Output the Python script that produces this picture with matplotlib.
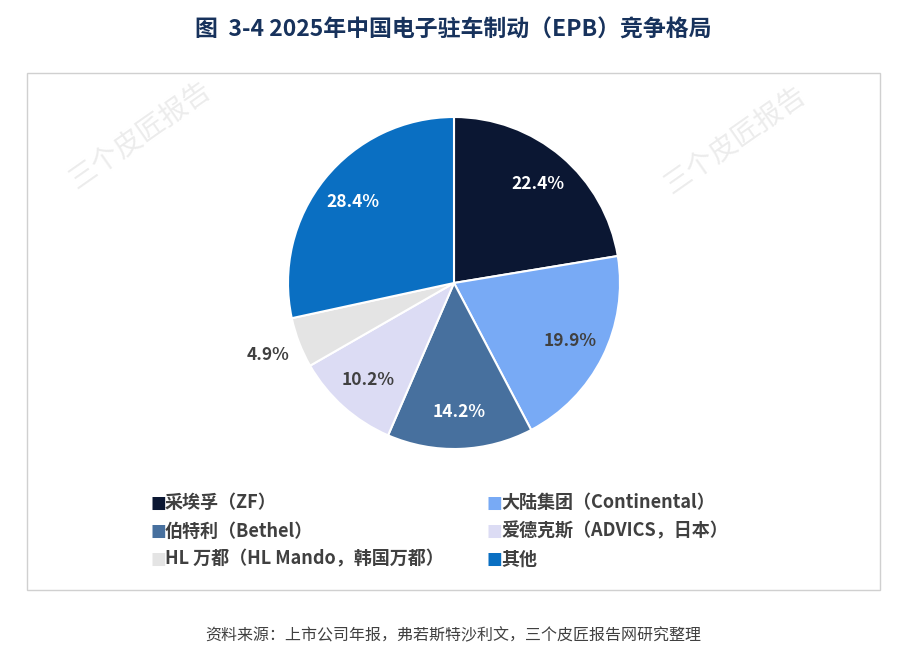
# epb_share.py
import numpy as np
import matplotlib.pyplot as plt
from matplotlib.patches import Rectangle

plt.rcParams['font.family'] = ['Noto Sans CJK SC', 'DejaVu Sans']

# Market share data
labels = ['采埃孚（ZF）', '大陆集团（Continental）', '伯特利（Bethel）',
          '爱德克斯（ADVICS，日本）', 'HL 万都（HL Mando，韩国万都）', '其他']
shares = [22.4, 19.9, 14.2, 10.2, 4.9, 28.4]
colors = ['#0b1733', '#78aaf5', '#47709e', '#dcdcf4', '#e4e4e4', '#0a6fc2']
text_colors = ['white', '#404040', 'white', '#404040', '#404040', 'white']

fig = plt.figure(figsize=(9.07, 6.66), dpi=100)
fig.patches.append(Rectangle((27 / 907, 76 / 666), 853 / 907, 517 / 666, transform=fig.transFigure,
                             fill=False, edgecolor='#d0d0d0', linewidth=1))
fig.text(0.5, 1 - 30 / 666, '图  3-4 2025年中国电子驻车制动（EPB）竞争格局', ha='center', va='center',
         fontsize=16.5, fontweight='bold', color='#17325c')
fig.text(0.5, 1 - 636 / 666, '资料来源：上市公司年报，弗若斯特沙利文，三个皮匠报告网研究整理', ha='center',
         va='center', fontsize=11.5, color='#404040')

# watermarks
for x, y in [(140, 135), (735, 140)]:
    fig.text(x / 907, 1 - y / 666, '三个皮匠报告', ha='center', va='center', rotation=35,
             fontsize=20, color='#ececec')

ax = plt.axes([(454 - 166) / 907, (666 - 283 - 166) / 666, 332 / 907, 332 / 666])
wedges, texts, autotexts = ax.pie(shares, colors=colors, startangle=90, counterclock=False,
                                  autopct='%.1f%%', pctdistance=0.78,
                                  wedgeprops=dict(edgecolor='white', linewidth=1.5))
for t, c in zip(autotexts, text_colors):
    t.set_color(c)
    t.set_fontsize(12.5)
    t.set_fontweight('bold')
# small slice label outside
w = wedges[4]
ang = np.deg2rad((w.theta1 + w.theta2) / 2)
autotexts[4].set_position((1.2 * np.cos(ang), 1.2 * np.sin(ang)))
ax.set_xlim(-1, 1)
ax.set_ylim(-1, 1)
ax.set_aspect('equal')

# legend
for i, (lab, col) in enumerate(zip(labels, colors)):
    x = 150 if i % 2 == 0 else 486
    y = 503 + 28 * (i // 2)
    fig.text(x / 907, 1 - y / 666, '■', ha='left', va='center', fontsize=12, color=col,
             family=['DejaVu Sans'])
    fig.text((x + 15) / 907, 1 - y / 666, lab, ha='left', va='center', fontsize=13,
             fontweight='bold', color='#404040')

plt.savefig('out.png', dpi=100)
